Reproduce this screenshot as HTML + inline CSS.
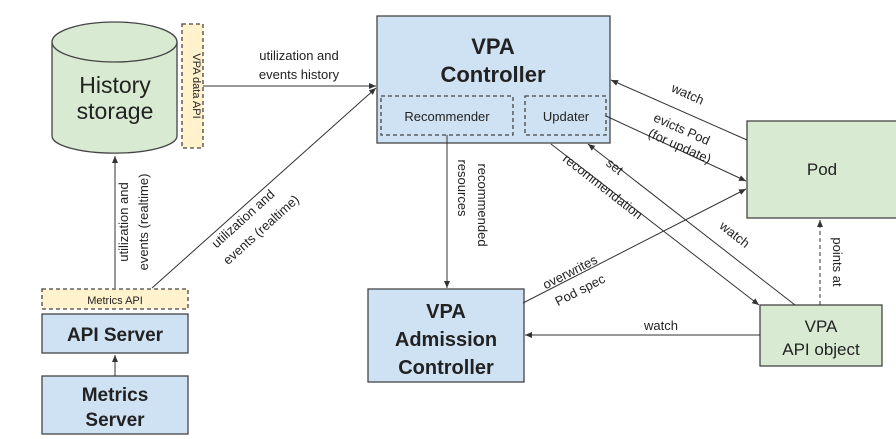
<!DOCTYPE html>
<html><head><meta charset="utf-8"><style>body{margin:0;background:#fff}svg{display:block}text{font-family:"Liberation Sans",Arial,sans-serif;fill:#222}</style></head><body>
<svg width="896" height="439" viewBox="0 0 896 439" xmlns="http://www.w3.org/2000/svg">
<defs><marker id="a" markerWidth="8" markerHeight="8" refX="7" refY="4" orient="auto" markerUnits="userSpaceOnUse"><path d="M0,1 L7,4 L0,7 z" fill="#333"/></marker></defs>
<g stroke="#444" stroke-width="1.3" fill="none">
<path d="M52,42 L52,136 A62,17 0 0 0 177,136 L177,42" fill="#d9ead3"/>
<ellipse cx="114.5" cy="42" rx="62.5" ry="20" fill="#d9ead3"/>
<rect x="182" y="24" width="21" height="124" fill="#fff2cc" stroke-dasharray="4,3"/>
<rect x="42" y="289" width="146" height="20" fill="#fff2cc" stroke-dasharray="4,3"/>
<rect x="42" y="314" width="146" height="39" fill="#cfe2f3"/>
<rect x="42" y="376" width="146" height="58" fill="#cfe2f3"/>
<rect x="377" y="16" width="233" height="127" fill="#cfe2f3"/>
<rect x="381" y="96" width="132" height="39" stroke-dasharray="4,3"/>
<rect x="525" y="96" width="81" height="39" stroke-dasharray="4,3"/>
<rect x="368" y="289" width="156" height="93" fill="#cfe2f3"/>
<rect x="747" y="121" width="152" height="97" fill="#d9ead3"/>
<rect x="760" y="305" width="122" height="61" fill="#d9ead3"/>
<g stroke="#333" stroke-width="1">
<line x1="203" y1="86" x2="376" y2="86" marker-end="url(#a)"/>
<line x1="115" y1="288" x2="115" y2="156" marker-end="url(#a)"/>
<line x1="115" y1="376" x2="115" y2="355" marker-end="url(#a)"/>
<line x1="152" y1="288" x2="376" y2="88" marker-end="url(#a)"/>
<line x1="747" y1="140" x2="611" y2="80" marker-end="url(#a)"/>
<line x1="606" y1="116" x2="746" y2="181" marker-end="url(#a)"/>
<line x1="551" y1="144" x2="759" y2="305" marker-end="url(#a)"/>
<line x1="795" y1="305" x2="588" y2="144" marker-end="url(#a)"/>
<line x1="523" y1="303" x2="746" y2="189" marker-end="url(#a)"/>
<line x1="760" y1="335" x2="525" y2="335" marker-end="url(#a)"/>
<line x1="820" y1="305" x2="820" y2="220" stroke-dasharray="4,3" marker-end="url(#a)"/>
<line x1="447" y1="135" x2="447" y2="288" marker-end="url(#a)"/>
</g></g>
<g text-anchor="middle">
<text x="115" y="93" font-size="23">History</text>
<text x="115" y="119" font-size="23">storage</text>
<text x="115" y="304" font-size="11">Metrics API</text>
<text x="115" y="341" font-size="19" font-weight="bold">API Server</text>
<text x="115" y="401" font-size="19" font-weight="bold">Metrics</text>
<text x="115" y="426" font-size="19" font-weight="bold">Server</text>
<text x="493" y="54" font-size="22" font-weight="bold">VPA</text>
<text x="493" y="82" font-size="22" font-weight="bold">Controller</text>
<text x="447" y="121" font-size="13">Recommender</text>
<text x="566" y="121" font-size="13">Updater</text>
<text x="446" y="318" font-size="20" font-weight="bold">VPA</text>
<text x="446" y="346" font-size="20" font-weight="bold">Admission</text>
<text x="446" y="374" font-size="20" font-weight="bold">Controller</text>
<text x="822" y="175" font-size="17">Pod</text>
<text x="821" y="332" font-size="17">VPA</text>
<text x="821" y="355" font-size="17">API object</text>
<text x="299" y="60" font-size="13">utilization and</text>
<text x="299" y="79" font-size="13">events history</text>
<text x="661" y="330" font-size="13">watch</text>
<text transform="translate(193,86) rotate(90)" font-size="11">VPA data API</text>
<text transform="translate(128,222) rotate(-90)" font-size="13">utilization and</text>
<text transform="translate(148,222) rotate(-90)" font-size="13">events (realtime)</text>
<text transform="translate(246,222) rotate(-42)" font-size="13">utilization and</text>
<text transform="translate(264,233) rotate(-42)" font-size="13">events (realtime)</text>
<text transform="translate(458,188) rotate(90)" font-size="13">resources</text>
<text transform="translate(478,205) rotate(90)" font-size="13">recommended</text>
<text transform="translate(686,98) rotate(24)" font-size="13">watch</text>
<text transform="translate(680,133) rotate(24)" font-size="13">evicts Pod</text>
<text transform="translate(678,150) rotate(24)" font-size="13">(for update)</text>
<text transform="translate(612,170) rotate(38)" font-size="13">set</text>
<text transform="translate(600,190) rotate(38)" font-size="13">recommendation</text>
<text transform="translate(732,238) rotate(38)" font-size="13">watch</text>
<text transform="translate(572,276) rotate(-27)" font-size="13">overwrites</text>
<text transform="translate(582,294) rotate(-27)" font-size="13">Pod spec</text>
<text transform="translate(833,262) rotate(90)" font-size="13">points at</text>
</g>
</svg>
</body></html>
